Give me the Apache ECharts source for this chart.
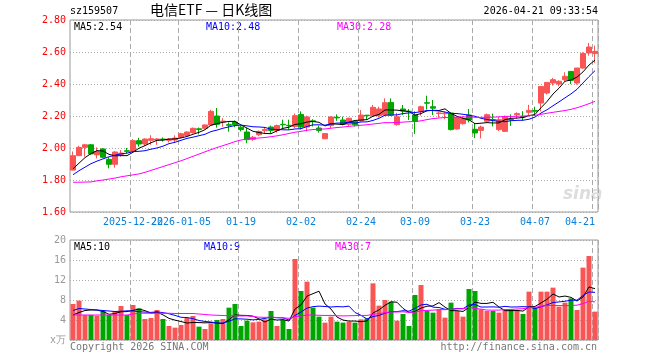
<!DOCTYPE html>
<html><head><meta charset="utf-8">
<script src="https://cdn.jsdelivr.net/npm/echarts@6/dist/echarts.min.js"></script>
<style>html,body{margin:0;padding:0;background:#fff}#c{width:660px;height:360px}</style>
</head><body><div id="c"></div>
<script>
// ---------- data ----------
const dates = [
 '2025-12-08','2025-12-09','2025-12-10','2025-12-11','2025-12-12','2025-12-15','2025-12-16','2025-12-17','2025-12-18','2025-12-19',
 '2025-12-22','2025-12-23','2025-12-24','2025-12-25','2025-12-26','2025-12-29','2025-12-30','2025-12-31','2026-01-05','2026-01-06',
 '2026-01-07','2026-01-08','2026-01-09','2026-01-12','2026-01-13','2026-01-14','2026-01-15','2026-01-16','2026-01-19','2026-01-20',
 '2026-01-21','2026-01-22','2026-01-23','2026-01-26','2026-01-27','2026-01-28','2026-01-29','2026-01-30','2026-02-02','2026-02-03',
 '2026-02-04','2026-02-05','2026-02-06','2026-02-09','2026-02-10','2026-02-11','2026-02-12','2026-02-13','2026-02-24','2026-02-25',
 '2026-02-26','2026-02-27','2026-03-02','2026-03-03','2026-03-04','2026-03-05','2026-03-06','2026-03-09','2026-03-10','2026-03-11',
 '2026-03-12','2026-03-13','2026-03-16','2026-03-17','2026-03-18','2026-03-19','2026-03-20','2026-03-23','2026-03-24','2026-03-25',
 '2026-03-26','2026-03-27','2026-03-30','2026-03-31','2026-04-01','2026-04-02','2026-04-03','2026-04-07','2026-04-08','2026-04-09',
 '2026-04-10','2026-04-13','2026-04-14','2026-04-15','2026-04-16','2026-04-17','2026-04-20','2026-04-21'
];
const labelDates = ['2025-12-22','2026-01-05','2026-01-19','2026-02-02','2026-02-24','2026-03-09','2026-03-23','2026-04-07','2026-04-21'];
const labelTexts = ['2025-12-22','2026-01-05','01-19','02-02','02-24','03-09','03-23','04-07','04-21'];

const opens = [
 1.862,1.952,2.004,2.020,1.957,1.994,1.929,1.898,1.960,1.983,
 1.979,2.046,2.025,2.048,2.050,2.056,2.048,2.050,2.067,2.078,
 2.096,2.120,2.123,2.144,2.200,2.162,2.146,2.162,2.130,2.100,
 2.054,2.083,2.108,2.131,2.110,2.148,2.142,2.135,2.210,2.131,
 2.170,2.125,2.058,2.140,2.192,2.175,2.148,2.168,2.170,2.205,
 2.202,2.202,2.206,2.285,2.146,2.244,2.230,2.206,2.229,2.283,
 2.258,2.215,2.214,2.219,2.119,2.152,2.206,2.117,2.110,2.167,
 2.178,2.115,2.104,2.178,2.208,2.196,2.223,2.234,2.281,2.344,
 2.406,2.400,2.427,2.479,2.406,2.500,2.594,2.590
];
const closes = [
 1.952,2.004,2.020,1.963,1.978,1.942,1.898,1.975,1.968,1.979,
 2.046,2.025,2.056,2.058,2.056,2.052,2.056,2.062,2.089,2.100,
 2.123,2.116,2.144,2.229,2.148,2.168,2.142,2.145,2.116,2.052,
 2.067,2.103,2.116,2.110,2.140,2.145,2.139,2.202,2.131,2.194,
 2.165,2.110,2.090,2.194,2.188,2.148,2.186,2.145,2.206,2.202,
 2.254,2.244,2.283,2.206,2.195,2.231,2.227,2.166,2.258,2.280,
 2.249,2.219,2.218,2.115,2.190,2.185,2.175,2.094,2.131,2.208,
 2.174,2.177,2.194,2.175,2.215,2.193,2.235,2.230,2.385,2.410,
 2.427,2.417,2.448,2.423,2.500,2.590,2.631,2.604
];
const lows = [
 1.860,1.950,1.946,1.958,1.935,1.938,1.873,1.877,1.946,1.965,
 1.975,2.008,2.015,2.020,2.020,2.040,2.035,2.031,2.060,2.070,
 2.090,2.085,2.118,2.140,2.127,2.133,2.102,2.130,2.104,2.030,
 2.045,2.074,2.090,2.094,2.096,2.120,2.115,2.125,2.115,2.104,
 2.135,2.096,2.056,2.125,2.170,2.142,2.138,2.135,2.165,2.175,
 2.196,2.190,2.200,2.200,2.140,2.206,2.175,2.088,2.202,2.240,
 2.206,2.190,2.180,2.110,2.115,2.146,2.160,2.062,2.060,2.162,
 2.135,2.106,2.100,2.138,2.185,2.170,2.204,2.200,2.229,2.335,
 2.390,2.385,2.415,2.400,2.396,2.494,2.577,2.531
];
const highs = [
 1.978,2.014,2.026,2.025,2.004,2.000,1.942,1.980,1.987,2.000,
 2.056,2.064,2.060,2.080,2.062,2.066,2.062,2.079,2.095,2.104,
 2.128,2.128,2.148,2.238,2.250,2.186,2.160,2.172,2.140,2.125,
 2.075,2.110,2.131,2.140,2.146,2.177,2.177,2.215,2.229,2.202,
 2.180,2.140,2.094,2.198,2.210,2.196,2.190,2.170,2.237,2.206,
 2.269,2.258,2.310,2.310,2.219,2.269,2.244,2.229,2.265,2.327,
 2.300,2.227,2.227,2.223,2.196,2.198,2.244,2.156,2.140,2.215,
 2.215,2.194,2.202,2.210,2.223,2.230,2.270,2.258,2.385,2.410,
 2.438,2.423,2.473,2.479,2.500,2.598,2.656,2.640
];
const volumes = [
 7.2,7.87,5.0,5.0,4.87,5.8,5.0,5.8,6.8,5.0,
 7.0,6.33,4.2,4.4,6.0,4.2,2.8,2.47,3.0,4.47,
 4.8,2.67,2.2,3.33,4.0,4.2,6.47,7.2,2.8,3.87,
 3.53,3.67,4.13,5.8,2.8,4.0,2.2,16.2,9.8,11.67,
 6.47,4.67,3.47,4.67,3.67,3.47,3.67,3.47,4.13,4.33,
 11.33,6.87,8.0,7.67,3.87,5.2,2.8,9.0,11.0,5.8,
 5.47,6.13,4.47,7.47,5.8,4.67,10.2,9.8,6.13,5.8,
 5.8,5.47,6.13,6.13,6.0,5.2,9.67,6.53,9.67,9.67,
 10.47,6.67,7.47,8.33,6.0,14.47,16.8,5.67
];
const ma5Head = [1.870,1.905,1.940,1.965];
const ma10Head = [1.833,1.858,1.880,1.902,1.918,1.932,1.945,1.955,1.963];
const ma30Head = [1.786,1.786,1.787,1.788,1.795,1.800,1.806,1.812,1.820,1.826,
 1.832,1.838,1.848,1.860,1.872,1.884,1.896,1.908,1.920,1.934,
 1.948,1.962,1.976,1.990,2.003,2.015,2.027,2.040,2.050];
const vma5Head = [5.0,5.5,5.9,6.0];
const vma10Head = [5.9,6.3,6.2,6.1,6.0,5.9,5.8,5.7,5.75];
const vma30Head = [5.0,5.0,5.0,5.0,5.0,5.0,5.0,5.0,5.0,5.0,
 5.2,5.35,5.35,5.35,5.35,5.35,5.35,5.3,5.3,5.3,
 5.3,5.2,5.1,5.0,4.95,4.9,4.85,4.85,4.8];
const priceTicks = [1.6, 2.8, 0.2];
const volTicks = [0, 20, 4];
const headerCode = 'sz159507';
const headerTitle = '电信ETF — 日K线图';
const headerTime = '2026-04-21 09:33:54';
const maTexts = ['MA5:2.54','MA10:2.48','MA30:2.28'];
const vmaTexts = ['MA5:10','MA10:9','MA30:7'];

// ---------- chart ----------
function movingAvg(vals, n, head) {
  return vals.map((v, i) => {
    if (i < n - 1) return head[i];
    let s = 0; for (let k = i - n + 1; k <= i; k++) s += vals[k];
    return +(s / n).toFixed(4);
  });
}
const RED = '#fa5555', GREEN = '#00a600';
const MONO = 'DejaVu Sans Mono';
const candle = dates.map((d, i) => [opens[i], closes[i], lows[i], highs[i]]);
const volData = volumes.map((v, i) => ({ value: v, itemStyle: { color: closes[i] >= opens[i] ? RED : GREEN } }));
const showIdx = (idx, val) => labelDates.indexOf(val) >= 0;
// labels split over two axes on the price grid so that the two crowded ones both print
const evenSet = labelDates.filter((d, k) => k !== 1);
const oddSet = [labelDates[1]];
const fmt = v => { const k = labelDates.indexOf(v); return k >= 0 ? labelTexts[k] : ''; };

const chart = echarts.init(document.getElementById('c'), null, { renderer: 'canvas' });
const xBase = {
  type: 'category', data: dates, boundaryGap: true,
  axisLine: { show: false }, axisTick: { show: false },
  splitLine: { show: true, interval: showIdx, lineStyle: { color: '#aaa', type: [5, 3], width: 1 } }
};
const lblBase = { show: true, margin: 5, color: '#0a80d8', fontFamily: MONO, fontSize: 10,
  hideOverlap: false, showMinLabel: true, showMaxLabel: true, formatter: fmt };
const mkLine = (name, data, color, xi, yi) => ({
  name, type: 'line', data, xAxisIndex: xi, yAxisIndex: yi, symbol: 'none', smooth: false,
  lineStyle: { color, width: 1 }, silent: true, z: 5
});
chart.setOption({
  animation: false,
  backgroundColor: '#fff',
  grid: [
    { left: 70, top: 20, width: 528, height: 192, show: true, borderColor: '#999', borderWidth: 1, backgroundColor: 'transparent' },
    { left: 70, top: 240, width: 528, height: 100, show: true, borderColor: '#999', borderWidth: 1, backgroundColor: 'transparent' }
  ],
  xAxis: [
    Object.assign({}, xBase, { gridIndex: 0,
      axisLabel: Object.assign({}, lblBase, { interval: (i, v) => evenSet.indexOf(v) >= 0, alignMaxLabel: 'right' }) }),
    Object.assign({}, xBase, { gridIndex: 1, axisLabel: { show: false } }),
    Object.assign({}, xBase, { gridIndex: 0, position: 'bottom', splitLine: { show: false },
      axisLabel: Object.assign({}, lblBase, { interval: (i, v) => oddSet.indexOf(v) >= 0 }) })
  ],
  yAxis: [
    { type: 'value', gridIndex: 0, min: priceTicks[0], max: priceTicks[1], interval: priceTicks[2],
      axisLine: { show: false }, axisTick: { show: false },
      axisLabel: { color: '#f00', fontFamily: MONO, fontSize: 10, margin: 4, hideOverlap: false, formatter: v => v.toFixed(2) },
      splitLine: { show: true, lineStyle: { color: '#aaa', type: [1, 2] } } },
    { type: 'value', gridIndex: 1, min: volTicks[0], max: volTicks[1], interval: volTicks[2],
      axisLine: { show: false }, axisTick: { show: false },
      axisLabel: { color: '#999', fontFamily: MONO, fontSize: 10, margin: 4, hideOverlap: false, formatter: v => v === 0 ? 'x万' : String(v) },
      splitLine: { show: true, lineStyle: { color: '#aaa', type: [1, 2] } } }
  ],
  series: [
    { type: 'candlestick', data: candle, xAxisIndex: 0, yAxisIndex: 0, barWidth: 5,
      itemStyle: { color: RED, color0: GREEN, borderColor: RED, borderColor0: GREEN, borderWidth: 1 }, silent: true },
    mkLine('MA5', movingAvg(closes, 5, ma5Head), '#000', 0, 0),
    mkLine('MA10', movingAvg(closes, 10, ma10Head), '#0000ff', 0, 0),
    mkLine('MA30', movingAvg(closes, 30, ma30Head), '#ff00ff', 0, 0),
    { type: 'bar', data: volData, xAxisIndex: 1, yAxisIndex: 1, barWidth: 5, silent: true },
    mkLine('VMA5', movingAvg(volumes, 5, vma5Head), '#000', 1, 1),
    mkLine('VMA10', movingAvg(volumes, 10, vma10Head), '#0000ff', 1, 1),
    mkLine('VMA30', movingAvg(volumes, 30, vma30Head), '#ff00ff', 1, 1)
  ],
  graphic: [
    { type: 'text', left: 70, top: 6, style: { text: headerCode, font: '10px "DejaVu Sans Mono"', fill: '#000' } },
    { type: 'text', left: 150, top: 3, style: { text: headerTitle, font: '14px "Noto Sans CJK SC"', fill: '#000' } },
    { type: 'text', right: 62, top: 6, style: { text: headerTime, font: '10px "DejaVu Sans Mono"', fill: '#000' } },
    { type: 'text', left: 74, top: 22, style: { text: maTexts[0], font: '10px "DejaVu Sans Mono"', fill: '#000' } },
    { type: 'text', left: 206, top: 22, style: { text: maTexts[1], font: '10px "DejaVu Sans Mono"', fill: '#0000ff' } },
    { type: 'text', left: 337, top: 22, style: { text: maTexts[2], font: '10px "DejaVu Sans Mono"', fill: '#ff00ff' } },
    { type: 'text', left: 74, top: 242, style: { text: vmaTexts[0], font: '10px "DejaVu Sans Mono"', fill: '#000' } },
    { type: 'text', left: 204, top: 242, style: { text: vmaTexts[1], font: '10px "DejaVu Sans Mono"', fill: '#0000ff' } },
    { type: 'text', left: 335, top: 242, style: { text: vmaTexts[2], font: '10px "DejaVu Sans Mono"', fill: '#ff00ff' } },
    { type: 'text', left: 70, top: 342, style: { text: 'Copyright 2026 SINA.COM', font: '10px "DejaVu Sans Mono"', fill: '#777' } },
    { type: 'text', right: 63, top: 342, style: { text: 'http://finance.sina.com.cn', font: '10px "DejaVu Sans Mono"', fill: '#777' } },
    { type: 'text', left: 563, top: 186, style: { text: 'sina', font: 'italic bold 17px "DejaVu Sans"', fill: '#ddd' } }
  ]
});
</script></body></html>
